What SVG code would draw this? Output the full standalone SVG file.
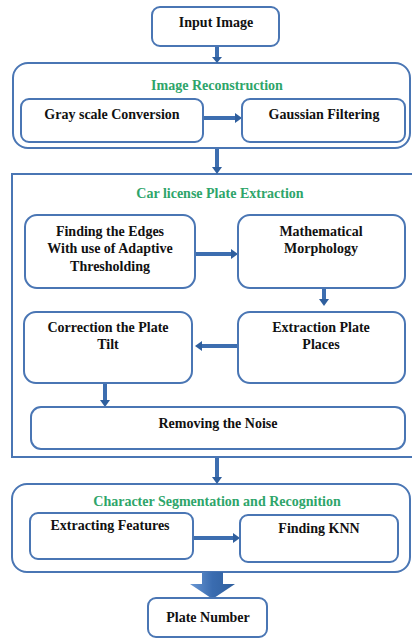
<svg xmlns="http://www.w3.org/2000/svg" width="412" height="639" viewBox="0 0 412 639">
<defs>
<linearGradient id="agv" x1="0" y1="0" x2="1" y2="0">
<stop offset="0" stop-color="#6a98d4"/><stop offset="0.5" stop-color="#3a6cb0"/><stop offset="1" stop-color="#2f5f9e"/>
</linearGradient>
</defs>
<style>
.box{fill:#fff;stroke:#4a76b4;stroke-width:2}
.cont{fill:#fff;stroke:#4a76b4;stroke-width:2}
.t{font-family:"Liberation Serif",serif;font-weight:bold;font-size:14px;fill:#111;text-anchor:middle}
.g{font-family:"Liberation Serif",serif;font-weight:bold;font-size:14px;fill:#2ea56a;text-anchor:middle}
.ah{fill:#2f5f9e}
.sh{stroke:#3d6eb0;stroke-width:4}
.sv{stroke:#3d6eb0;stroke-width:4}
</style>

<g id="containers">
<rect id="c-recon" class="cont" x="13" y="63" width="397" height="85" rx="15"/>
<rect id="c-plate" class="cont" x="12" y="174" width="410" height="283"/>
<rect id="c-char" class="cont" x="12" y="484" width="398" height="88" rx="15"/>
</g>

<g id="connectors">
<line class="sv" x1="217" y1="47" x2="217" y2="58"/><polygon class="ah" points="212,57 222,57 217,63"/>
<line class="sh" x1="204" y1="118" x2="236" y2="118"/><polygon class="ah" points="235,113 235,123 242,118"/>
<line class="sv" x1="217" y1="149" x2="217" y2="168"/><polygon class="ah" points="212,167 222,167 217,174"/>
<line class="sh" x1="196" y1="254" x2="232" y2="254"/><polygon class="ah" points="231,249 231,259 238,254"/>
<line class="sv" x1="324" y1="289" x2="324" y2="300"/><polygon class="ah" points="319,299 329,299 324,306"/>
<line class="sh" x1="237" y1="346" x2="201" y2="346"/><polygon class="ah" points="202,341 202,351 195,346"/>
<line class="sv" x1="105" y1="384" x2="105" y2="401"/><polygon class="ah" points="100,400 110,400 105,407"/>
<line class="sv" x1="217" y1="458" x2="217" y2="478"/><polygon class="ah" points="212,477 222,477 217,484"/>
<line class="sh" x1="194" y1="538" x2="234" y2="538"/><polygon class="ah" points="233,533 233,543 240,538"/>
<polygon fill="url(#agv)" points="202,572 223,572 223,584 235,584 212.5,599 190,584 202,584"/>
</g>

<g id="n-input"><rect class="box" x="152" y="7" width="127" height="39" rx="8"/><text class="t" x="216" y="27">Input Image</text></g>
<g id="n-recon-title"><text class="g" x="217" y="90">Image Reconstruction</text></g>
<g id="n-gray"><rect class="box" x="21" y="99" width="182" height="43" rx="8"/><text class="t" x="112" y="119">Gray scale Conversion</text></g>
<g id="n-gauss"><rect class="box" x="242" y="99" width="163" height="43" rx="8"/><text class="t" x="324" y="119">Gaussian Filtering</text></g>

<g id="n-plate-title"><text class="g" x="220" y="198">Car license Plate Extraction</text></g>
<g id="n-edges"><rect class="box" x="25" y="215" width="170" height="73" rx="12"/><text class="t" x="110" y="236">Finding the Edges</text><text class="t" x="110" y="253">With use of Adaptive</text><text class="t" x="110" y="271">Thresholding</text></g>
<g id="n-morph"><rect class="box" x="238" y="215" width="167" height="73" rx="12"/><text class="t" x="321" y="236">Mathematical</text><text class="t" x="321" y="253">Morphology</text></g>
<g id="n-correct"><rect class="box" x="24" y="312" width="168" height="71" rx="12"/><text class="t" x="108" y="332">Correction the Plate</text><text class="t" x="108" y="349">Tilt</text></g>
<g id="n-extract"><rect class="box" x="238" y="312" width="167" height="71" rx="12"/><text class="t" x="321" y="332">Extraction Plate</text><text class="t" x="321" y="349">Places</text></g>
<g id="n-noise"><rect class="box" x="31" y="407" width="374" height="42" rx="10"/><text class="t" x="218" y="428">Removing the Noise</text></g>

<g id="n-char-title"><text class="g" x="217" y="506">Character Segmentation and Recognition</text></g>
<g id="n-features"><rect class="box" x="30" y="513" width="163" height="46" rx="8"/><text class="t" x="110" y="530">Extracting Features</text></g>
<g id="n-knn"><rect class="box" x="240" y="515" width="158" height="47" rx="8"/><text class="t" x="319" y="533">Finding KNN</text></g>

<g id="n-platenum"><rect class="box" x="148" y="598" width="119" height="39" rx="8"/><text class="t" x="208" y="622">Plate Number</text></g>
</svg>
